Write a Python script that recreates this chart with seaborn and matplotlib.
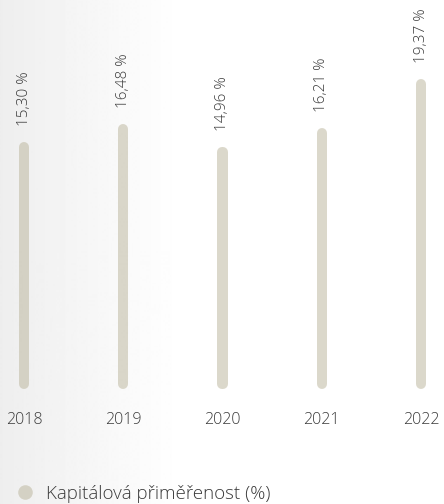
import matplotlib
matplotlib.use("Agg")
import matplotlib.pyplot as plt
from matplotlib.lines import Line2D
import numpy as np
import pandas as pd
import seaborn as sns

years = ["2018", "2019", "2020", "2021", "2022"]
ratio = [15.30, 16.48, 14.96, 16.21, 19.37]
labels = ["15,30 %", "16,48 %", "14,96 %", "16,21 %", "19,37 %"]
legend_label = "Kapitálová přiměřenost (%)"

bar_color = "#b9b399"
text_color = "#3a3a3a"

sns.set_theme(style="white")
plt.rcParams["font.family"] = ["Open Sans", "DejaVu Sans"]

df = pd.DataFrame({"year": years, "ratio": ratio})

fig = plt.figure(figsize=(4.44, 5.04), dpi=100)

# background gradient (light grey on the left fading to white)
bg = fig.add_axes([0, 0, 1, 1], zorder=-10)
grad = np.ones((1, 444))
grad[0, :182] = np.linspace(0.933, 1.0, 182)
bg.imshow(grad, cmap="gray", vmin=0, vmax=1, aspect="auto", extent=[0, 1, 0, 1])
bg.set_axis_off()

# zero line at y=384 px from top
ax = fig.add_axes([0, 120 / 504, 1, 384 / 504])
ax.patch.set_alpha(0)

sns.barplot(data=df, x="year", y="ratio", ax=ax, color=bar_color, width=0.001,
            linewidth=7.2, edgecolor=bar_color, alpha=0.5)
for p in ax.patches:
    p.set_clip_on(False)
    p.set_facecolor("none")
    p.set_joinstyle("round")
    p.set_capstyle("round")

for i, (v, lab) in enumerate(zip(ratio, labels)):
    ax.annotate(lab, (i, v), xytext=(0, 15), textcoords="offset points",
                rotation=90, ha="center", va="bottom", fontsize=11,
                fontweight="light", color=text_color)

ax.set_xlim(-24 / 99.25, 4 + 23 / 99.25)
ax.set_ylim(0, 384 / 15.5)
ax.set_xlabel("")
ax.set_ylabel("")
ax.set_yticks([])
ax.tick_params(axis="x", length=0, pad=20, labelsize=11.5, labelcolor=text_color)
for lbl in ax.get_xticklabels():
    lbl.set_fontweight("light")
sns.despine(ax=ax, left=True, bottom=True)

handle = Line2D([], [], marker="o", linestyle="none", markersize=10.5,
                markerfacecolor=bar_color, markeredgecolor="none", alpha=0.5)
fig.legend([handle], [legend_label], loc="center left",
           bbox_to_anchor=(-11 / 444, 1 - 494 / 504), frameon=False,
           handletextpad=0.15, labelcolor=text_color,
           prop={"weight": "light", "size": 13.5})

fig.savefig("out.png", dpi=100)
